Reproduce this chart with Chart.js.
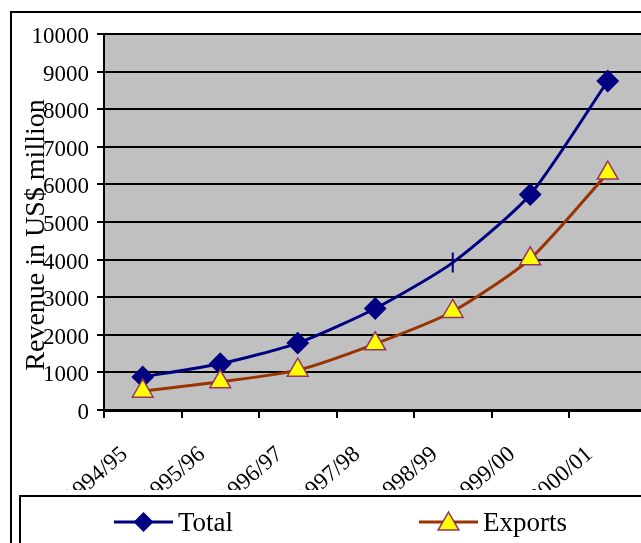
<!DOCTYPE html>
<html>
<head>
<meta charset="utf-8">
<script src="https://cdn.jsdelivr.net/npm/chart.js@4.4.1/dist/chart.umd.min.js"></script>
<style>
  html, body { margin: 0; padding: 0; overflow: hidden; background: #fff; }
  canvas { display: block; }
</style>
</head>
<body>
<canvas id="revenue-chart" width="660" height="560"></canvas>
<script>
const years = ['1994/95', '1995/96', '1996/97', '1997/98', '1998/99', '1999/00', '2000/01'];
const totalRevenue = [880, 1230, 1780, 2700, 3920, 5730, 8750];
const exportRevenue = [500, 750, 1060, 1760, 2620, 4020, 6300];
const revenueTicks = [0, 1000, 2000, 3000, 4000, 5000, 6000, 7000, 8000, 9000, 10000];

const serif = '"Liberation Serif", "Times New Roman", serif';
const navy = '#000080';
const brown = '#993300';

// Total uses a vertical dash for 1998/99, as in the original
const totalStyles = years.map((y, i) => (i === 4 ? 'line' : 'rectRot'));
const totalRotation = years.map((y, i) => (i === 4 ? 90 : 0));

const frame = {
  id: 'frame',
  beforeDraw(chart) {
    const { ctx, chartArea } = chart;
    ctx.save();
    ctx.fillStyle = '#fff';
    ctx.fillRect(0, 0, chart.width, chart.height);
    ctx.strokeStyle = '#000';
    ctx.lineWidth = 2;
    ctx.strokeRect(11, 12, 1000, 1000);
    ctx.fillStyle = '#C0C0C0';
    ctx.fillRect(chartArea.left, chartArea.top, chartArea.right - chartArea.left, chartArea.bottom - chartArea.top);
    ctx.restore();
  },
  afterDraw(chart) {
    const ctx = chart.ctx;
    ctx.save();

    // y axis title, overlapping the tick labels like the original
    ctx.translate(44, 235);
    ctx.rotate(-Math.PI / 2);
    ctx.fillStyle = '#000';
    ctx.font = '28px ' + serif;
    ctx.textAlign = 'center';
    ctx.textBaseline = 'alphabetic';
    ctx.fillText('Revenue in US$ million', 0, 0);
    ctx.setTransform(1, 0, 0, 1, 0, 0);

    // legend box (covers the lower part of the year labels, as in the original)
    ctx.fillStyle = '#fff';
    ctx.fillRect(20, 496, 700, 100);
    ctx.strokeStyle = '#000';
    ctx.lineWidth = 2;
    ctx.strokeRect(20, 496, 700, 100);

    const entries = [
      { ds: chart.data.datasets[0], x: 114 },
      { ds: chart.data.datasets[1], x: 419 },
    ];
    const cy = 522;
    entries.forEach(({ ds, x }) => {
      ctx.strokeStyle = ds.borderColor;
      ctx.lineWidth = 3;
      ctx.beginPath();
      ctx.moveTo(x, cy);
      ctx.lineTo(x + 59, cy);
      ctx.stroke();
      const mx = x + 29.5;
      ctx.beginPath();
      if (ds.label === 'Total') {
        ctx.moveTo(mx - 10, cy);
        ctx.lineTo(mx, cy - 10);
        ctx.lineTo(mx + 10, cy);
        ctx.lineTo(mx, cy + 10);
        ctx.closePath();
        ctx.fillStyle = navy;
        ctx.fill();
      } else {
        const r = 12;
        ctx.moveTo(mx, cy - r + 2);
        ctx.lineTo(mx + r * 0.866, cy + r * 0.5 + 2);
        ctx.lineTo(mx - r * 0.866, cy + r * 0.5 + 2);
        ctx.closePath();
        ctx.fillStyle = ds.pointBackgroundColor;
        ctx.fill();
        ctx.strokeStyle = ds.pointBorderColor;
        ctx.lineWidth = 1.5;
        ctx.stroke();
      }
      ctx.fillStyle = '#000';
      ctx.font = '27px ' + serif;
      ctx.textAlign = 'left';
      ctx.fillText(ds.label, x + 64, 531);
    });
    ctx.restore();
  },
};

const ctx = document.getElementById('revenue-chart').getContext('2d');

new Chart(ctx, {
  type: 'line',
  data: {
    labels: years,
    datasets: [
      {
        label: 'Total',
        data: totalRevenue,
        borderColor: navy,
        borderWidth: 3,
        tension: 0.22,
        pointStyle: totalStyles,
        pointRotation: totalRotation,
        pointRadius: 10,
        pointBackgroundColor: navy,
        pointBorderColor: navy,
        pointBorderWidth: 2,
        order: 1,
      },
      {
        label: 'Exports',
        data: exportRevenue,
        borderColor: brown,
        borderWidth: 3,
        tension: 0.22,
        pointStyle: 'triangle',
        pointRadius: 12,
        pointBackgroundColor: '#FFFF00',
        pointBorderColor: '#993366',
        pointBorderWidth: 1.5,
        order: 0,
      },
    ],
  },
  options: {
    responsive: false,
    animation: false,
    layout: { padding: { left: 10, top: 34, right: 10, bottom: 70 } },
    scales: {
      x: {
        offset: true,
        afterFit: (scale) => { scale.height = 80; },
        grid: {
          display: true,
          offset: true,
          drawOnChartArea: false,
          tickLength: 8,
          color: '#000',
          lineWidth: 2,
        },
        border: { color: '#000', width: 3 },
        ticks: {
          color: '#000',
          font: { family: serif, size: 23 },
          minRotation: 41,
          maxRotation: 41,
          autoSkip: false,
          padding: 23,
          labelOffset: -18,
        },
      },
      y: {
        min: 0,
        max: 10000,
        afterFit: (scale) => { scale.width = 94; },
        afterBuildTicks: (scale) => { scale.ticks = revenueTicks.map((v) => ({ value: v })); },
        grid: { color: '#000', lineWidth: 2, tickLength: 7 },
        border: { color: '#000', width: 2 },
        ticks: {
          color: '#000',
          font: { family: serif, size: 23 },
          padding: 8,
          labelOffset: 3,
          callback: (v) => String(v),
        },
      },
    },
    plugins: {
      legend: { display: false },
      tooltip: { enabled: false },
    },
  },
  plugins: [frame],
});
</script>
</body>
</html>
